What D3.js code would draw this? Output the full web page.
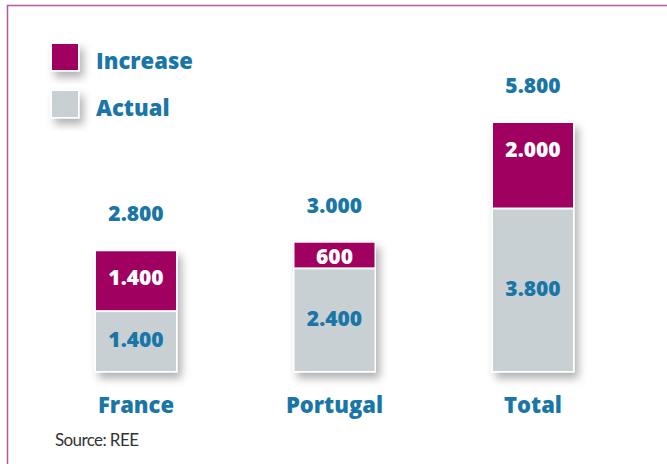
<!DOCTYPE html>
<html>
<head>
<meta charset="utf-8">
<script src="https://cdn.jsdelivr.net/npm/d3@7"></script>
<style>
  body { margin: 0; background: #fff; }
  text { font-family: "Open Sans", "Lato", sans-serif; }
</style>
</head>
<body>
<div id="canvas"></div>
<script>
"use strict"

// canvas size
let svgWidth = 667;
let svgHeight = 464;

// DATA
let categories = ["France", "Portugal", "Total"];
let actual = [1400, 2400, 3800];
let increase = [1400, 600, 2000];
let totals = [2800, 3000, 5800];
let actualLabels = ["1.400", "2.400", "3.800"];
let increaseLabels = ["1.400", "600", "2.000"];
let totalLabels = ["2.800", "3.000", "5.800"];
let seriesNames = ["Increase", "Actual"];
let sourceText = "Source: REE";

// colours
let magenta = "#a0005f";
let grey = "#c8d0d4";
let blue = "#1a76a7";
let frameColor = "#b9589a";

let barWidth = 80;
let labelWeight = 800;

let svg = d3.select("#canvas")
    .append("svg")
    .attr("width", svgWidth)
    .attr("height", svgHeight);

// drop shadow
let defs = svg.append("defs");
let shadow = defs.append("filter")
    .attr("id", "shadow")
    .attr("x", "-30%").attr("y", "-30%")
    .attr("width", "170%").attr("height", "170%");
shadow.append("feDropShadow")
    .attr("dx", 4)
    .attr("dy", 6)
    .attr("stdDeviation", 4)
    .attr("flood-color", "#000")
    .attr("flood-opacity", 0.3);

// frame (top and left)
svg.append("path")
    .attr("d", "M7.5," + svgHeight + " L7.5,5.5 L" + svgWidth + ",5.5")
    .attr("fill", "none")
    .attr("stroke", frameColor)
    .attr("stroke-width", 1.5);

// scales
let xScale = d3.scalePoint()
    .domain(categories)
    .range([136, 533]);

let yScale = d3.scaleLinear()
    .domain([0, 5800])
    .range([371, 123]);

// bars
let bars = svg.selectAll(".bar")
    .data(categories)
    .join("g")
    .attr("class", "bar");

// white backing with shadow
bars.append("rect")
    .attr("x", function (d) { return xScale(d) - barWidth / 2 - 1.5; })
    .attr("y", function (d, i) { return yScale(totals[i]) - 1.5; })
    .attr("width", barWidth + 3)
    .attr("height", function (d, i) { return yScale(0) - yScale(totals[i]) + 3; })
    .attr("fill", "#fff")
    .attr("filter", "url(#shadow)");

// actual segment
bars.append("rect")
    .attr("x", function (d) { return xScale(d) - barWidth / 2; })
    .attr("y", function (d, i) { return yScale(actual[i]) + 1; })
    .attr("width", barWidth)
    .attr("height", function (d, i) { return yScale(0) - yScale(actual[i]) - 1; })
    .attr("fill", grey);

// increase segment
bars.append("rect")
    .attr("x", function (d) { return xScale(d) - barWidth / 2; })
    .attr("y", function (d, i) { return yScale(totals[i]); })
    .attr("width", barWidth)
    .attr("height", function (d, i) { return yScale(actual[i]) - yScale(totals[i]) - 1; })
    .attr("fill", magenta);

// values inside bars
bars.append("text")
    .attr("x", function (d) { return xScale(d); })
    .attr("y", function (d, i) { return (yScale(0) + yScale(actual[i])) / 2 - 2; })
    .attr("text-anchor", "middle")
    .attr("dominant-baseline", "central")
    .style("font-size", "21px")
    .style("font-weight", labelWeight)
    .attr("fill", blue)
    .text(function (d, i) { return actualLabels[i]; });

bars.append("text")
    .attr("x", function (d) { return xScale(d); })
    .attr("y", function (d, i) {
        let half = (yScale(actual[i]) - yScale(totals[i])) / 2;
        return yScale(totals[i]) + Math.min(half, 26);
    })
    .attr("text-anchor", "middle")
    .attr("dominant-baseline", "central")
    .style("font-size", "21px")
    .style("font-weight", labelWeight)
    .attr("fill", "#fff")
    .text(function (d, i) { return increaseLabels[i]; });

// totals above bars
bars.append("text")
    .attr("x", function (d) { return xScale(d); })
    .attr("y", function (d, i) { return yScale(totals[i]) - 38; })
    .attr("text-anchor", "middle")
    .attr("dominant-baseline", "central")
    .style("font-size", "21px")
    .style("font-weight", labelWeight)
    .attr("fill", blue)
    .text(function (d, i) { return totalLabels[i]; });

// category labels
bars.append("text")
    .attr("x", function (d) { return xScale(d); })
    .attr("y", 413)
    .attr("text-anchor", "middle")
    .style("font-size", "22px")
    .style("font-weight", labelWeight)
    .attr("fill", blue)
    .text(function (d) { return d; });

// LEGEND
let legendColors = [magenta, grey];
let legend = svg.selectAll(".legend")
    .data(seriesNames)
    .join("g")
    .attr("class", "legend")
    .attr("transform", function (d, i) { return "translate(52," + (44 + i * 47) + ")"; });

legend.append("rect")
    .attr("x", -1.5)
    .attr("y", -1.5)
    .attr("width", 29)
    .attr("height", 29)
    .attr("fill", "#fff")
    .attr("filter", "url(#shadow)");

legend.append("rect")
    .attr("width", 26)
    .attr("height", 26)
    .attr("fill", function (d, i) { return legendColors[i]; });

legend.append("text")
    .attr("x", 44)
    .attr("y", 16)
    .attr("dominant-baseline", "central")
    .style("font-size", "22px")
    .style("font-weight", labelWeight)
    .attr("fill", blue)
    .text(function (d) { return d; });

// source
svg.append("text")
    .attr("x", 55)
    .attr("y", 446)
    .style("font-family", "Lato, sans-serif")
    .style("font-size", "17px")
    .attr("fill", "#333")
    .style("letter-spacing", "-0.6px")
    .text(sourceText);
</script>
</body>
</html>
